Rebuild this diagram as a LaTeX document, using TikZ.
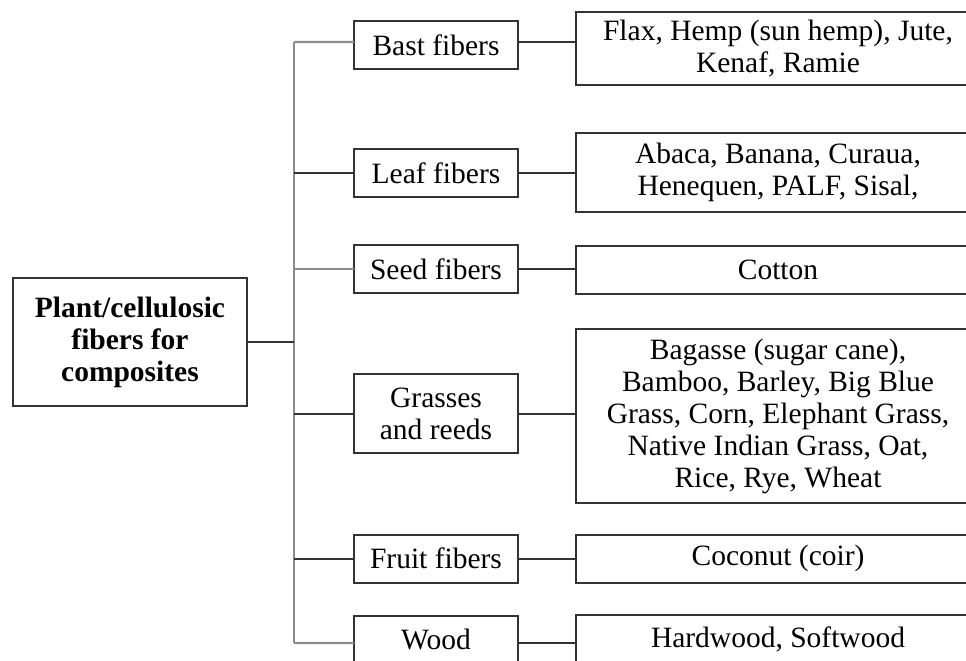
\documentclass[tikz,border=0pt]{standalone}
\usepackage{fontspec}
\setmainfont{Liberation Serif}
\usetikzlibrary{calc}
\tikzset{
  box/.style = {draw=black!80, line width=0.8pt, align=center,
      minimum height=#1, inner sep=0pt, outer sep=0pt,
      font=\fontsize{11.8}{12.8}\selectfont},
  box/.default = 19.2pt, % one line of text
  midbox/.style = {box=#1, minimum width=65.6pt},
  midbox/.default = 19.2pt,
  listbox/.style = {box=#1, minimum width=161.6pt},
  listbox/.default = 19.2pt,
  link/.style = {line width=0.8pt, black!80},
  glink/.style = {line width=0.9pt, gray!90},
}
\begin{document}
\begin{tikzpicture}[x=0.4pt, y=-0.4pt]
  \path[use as bounding box, clip] (0,0) rectangle (966,660);

  % root
  \node[box=51.2pt, minimum width=93.6pt, font=\fontsize{11.8}{12.8}\selectfont\bfseries]
    (root) at (130,342) {Plant/cellulosic\\fibers for\\composites};

  % fiber groups
  \node[midbox] (bast) at (436,45) {Bast fibers};
  \node[midbox] (leaf) at (436,173) {Leaf fibers};
  \node[midbox] (seed) at (436,269) {Seed fibers};
  \node[midbox=31.6pt] (grass) at (436,413.5) {Grasses\\and reeds};
  \node[midbox] (fruit) at (436,558.5) {Fruit fibers};
  \node[midbox] (wood) at (436,639.5) {Wood};

  % examples
  \node[listbox=29.2pt] (flax) at (778,48.5) {Flax, Hemp (sun hemp), Jute,\\Kenaf, Ramie};
  \node[listbox=31.6pt] (abaca) at (778,172.5) {Abaca, Banana, Curaua,\\Henequen, PALF, Sisal,};
  \node[listbox] (cotton) at (778,269.5) {Cotton};
  \node[listbox=69.6pt] (bagasse) at (778,416) {Bagasse (sugar cane),\\Bamboo, Barley, Big Blue\\Grass, Corn, Elephant Grass,\\Native Indian Grass, Oat,\\Rice, Rye, Wheat};
  \node[listbox] (coconut) at (778,558.5) {Coconut (coir)};
  \node[listbox] (hardwood) at (778,639) {Hardwood, Softwood};

  % spine
  \coordinate (top) at (294,42);
  \coordinate (bot) at (294,643);
  \draw[glink] (top) -- (bot);
  \draw[link] (root.east) -- (root.east -| top);

  \draw[glink] (top) -- ([yshift=1.2pt]bast.west);
  \draw[link] (leaf.west -| top) -- (leaf.west);
  \draw[glink] (seed.west -| top) -- (seed.west);
  \draw[link] (grass.west -| top) -- (grass.west);
  \draw[link] (fruit.west -| top) -- (fruit.west);
  \draw[glink] (bot) -- ([yshift=-1.4pt]wood.west);

  \draw[link] ([yshift=1.2pt]bast.east) -- ([yshift=1.2pt]bast.east -| flax.west);
  \draw[link] (leaf.east) -- (leaf.east -| abaca.west);
  \draw[link] (seed.east) -- (seed.east -| cotton.west);
  \draw[link] (grass.east) -- (grass.east -| bagasse.west);
  \draw[link] (fruit.east) -- (fruit.east -| coconut.west);
  \draw[link] ([yshift=-1.4pt]wood.east) -- ([yshift=-1.4pt]wood.east -| hardwood.west);
\end{tikzpicture}
\end{document}
